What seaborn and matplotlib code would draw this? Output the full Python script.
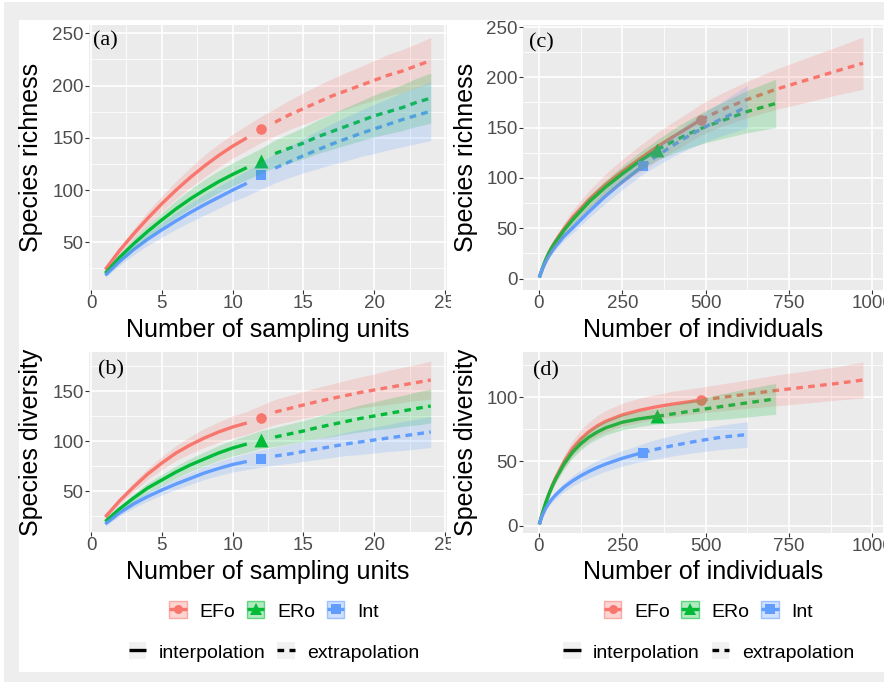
import numpy as np
import pandas as pd
import matplotlib
matplotlib.use("Agg")
import matplotlib.pyplot as plt
import seaborn as sns
from matplotlib.patches import Rectangle, Patch
from matplotlib.lines import Line2D
from matplotlib.transforms import Bbox
from matplotlib.colors import to_rgba

# ---------------- data ----------------
sites = ["EFo", "ERo", "Int"]
site_colors = {"EFo": "#F8766D", "ERo": "#00BA38", "Int": "#619CFF"}
site_markers = {"EFo": "o", "ERo": "^", "Int": "s"}
marker_sizes = {"EFo": 58, "ERo": 100, "Int": 62}

# Panel (a): species richness vs sampling units
units_interp = list(range(1, 12))
units_obs = 12
units_extrap = list(range(13, 25))
a_interp = {
    "EFo": [24, 42, 58, 73, 87, 100, 112, 123, 133, 142, 150],
    "ERo": [20.5, 35.5, 48.5, 60.5, 71.5, 82, 91.5, 100, 108, 115, 121.5],
    "Int": [18.5, 31.5, 43, 53, 62, 70.5, 78.5, 86, 93, 100, 106.5],
}
a_obs = {"EFo": 158, "ERo": 128, "Int": 114}
a_extrap = {
    "EFo": [165, 172, 178, 184, 190, 195, 200, 205, 210, 214, 219, 224],
    "ERo": [135, 140, 145, 151, 156, 161, 166, 171, 175, 179, 184, 188],
    "Int": [121, 127, 133, 138.5, 144, 149, 154, 158.5, 163, 167.5, 171.5, 175.5],
}
a_half = {
    "EFo": [2, 3.5, 5, 6.5, 7.5, 8.5, 9.5, 10.5, 11, 11.5, 12, 12.5, 13, 14, 15, 16, 16.5, 17.5, 18, 19, 20, 20.5, 21, 22],
    "ERo": [2, 3.5, 5, 6, 7, 8, 9, 10, 10.5, 11, 11.5, 12, 13, 14, 15, 16, 17, 18, 19, 20, 21, 22, 23, 24],
    "Int": [2, 3.5, 5, 6, 7, 8, 9, 10, 10.5, 11, 12, 13, 14, 15, 16.5, 18, 19.5, 21, 22, 23.5, 24.5, 26, 27, 28],
}

# Panel (b): species diversity vs sampling units
b_interp = {
    "EFo": [24, 40, 54, 67, 78, 88, 96, 103, 109, 114, 118],
    "ERo": [19.5, 32, 43, 53, 61, 69, 76, 82, 88, 93, 97],
    "Int": [17, 28, 37, 44.5, 51, 57, 62.5, 68, 72.5, 76.5, 79.5],
}
b_obs = {"EFo": 123.5, "ERo": 101.5, "Int": 82.5}
b_extrap = {
    "EFo": [129, 132.5, 136, 139.5, 142.5, 145.5, 148.5, 151, 153.5, 156, 158.5, 161],
    "ERo": [104, 107, 110, 113.5, 116.5, 119.5, 122.5, 125, 127.5, 130, 132.5, 135],
    "Int": [85, 87, 89.5, 92, 94.5, 97, 99, 101, 103, 105, 107, 109],
}
b_half = {
    "EFo": [2, 3.5, 4.5, 5.5, 6.5, 7.5, 8.5, 9.5, 10, 11, 11.5, 12, 12.5, 13, 13.5, 14, 14.5, 15, 15.5, 16, 17, 17.5, 18, 19],
    "ERo": [2, 3, 4, 5, 5.5, 6, 6.5, 7, 7.5, 8, 8.5, 9, 9.5, 10, 10.5, 11, 12, 12.5, 13.5, 14, 15, 15.5, 16.5, 17],
    "Int": [2, 3, 4, 4.5, 5, 5.5, 6, 6.5, 7, 7.5, 8, 8.5, 9, 9.5, 10, 10.5, 11, 11.5, 12.5, 13, 13.5, 14.5, 15, 15.5],
}

# Panel (c): species richness vs individuals
c_interp_x = {
    "EFo": [1, 5, 10, 20, 30, 40, 50, 75, 100, 150, 200, 250, 300, 350, 400, 450, 486],
    "ERo": [1, 5, 10, 20, 30, 40, 50, 75, 100, 150, 200, 250, 300, 355],
    "Int": [1, 5, 10, 20, 30, 40, 50, 75, 100, 150, 200, 250, 300, 312],
}
ind_extrap_x = {
    "EFo": [486, 550, 625, 710, 800, 900, 972],
    "ERo": [355, 400, 450, 500, 550, 625, 710],
    "Int": [312, 350, 400, 450, 500, 550, 625],
}
c_interp = {
    "EFo": [1, 5, 9.8, 18.5, 26, 32, 37.5, 49.5, 60.5, 78.5, 93.5, 106.5, 118.5, 130, 140.5, 150.5, 158],
    "ERo": [1, 5, 9.8, 18.5, 25.5, 31.5, 36.5, 48, 58, 76, 91, 104, 116, 128],
    "Int": [1, 4.8, 9.3, 16.5, 22.5, 27.5, 32, 42, 50, 66.5, 82, 96, 109, 112],
}
c_extrap = {
    "EFo": [158, 168, 178, 188, 197, 207, 214],
    "ERo": [128, 136, 144, 151, 157, 166, 174],
    "Int": [112, 121, 132, 142, 151, 159, 171],
}
c_half_interp = {
    "EFo": [0, 0.5, 1, 2, 3, 4, 4.5, 6, 7, 9, 10.5, 12, 13, 14, 14.5, 15, 15.5],
    "ERo": [0, 0.5, 1, 1.5, 2, 2.5, 3, 4, 5, 6, 7, 8, 9, 10],
    "Int": [0, 0.5, 1, 1.5, 2, 2.5, 3, 4, 5, 6, 7, 7.5, 8, 8],
}
c_half_extrap = {
    "EFo": [15.5, 16.5, 18, 20, 22, 24, 26],
    "ERo": [10, 12, 14, 16, 18, 21, 24],
    "Int": [8, 9.5, 11, 13, 15, 17, 21],
}

# Panel (d): species diversity vs individuals
d_interp_x = {
    "EFo": [1, 5, 10, 20, 30, 40, 50, 75, 100, 125, 150, 175, 200, 250, 300, 350, 400, 450, 486],
    "ERo": [1, 5, 10, 20, 30, 40, 50, 75, 100, 125, 150, 175, 200, 250, 300, 355],
    "Int": [1, 5, 10, 20, 30, 40, 50, 75, 100, 125, 150, 175, 200, 250, 300, 312],
}
d_interp = {
    "EFo": [1, 4.9, 9.5, 17.7, 25, 31.5, 37.3, 49.8, 60, 67.5, 73.3, 77.8, 81.3, 86.3, 89.8, 92.5, 94.7, 96.5, 97.8],
    "ERo": [1, 4.9, 9.5, 17.6, 24.7, 30.9, 36.4, 48, 57, 63.8, 69, 73, 76.2, 80.6, 83.2, 85.2],
    "Int": [1, 4.5, 8, 13.5, 17.7, 21.1, 24, 30, 34.8, 38.8, 42.3, 45.3, 48, 52.5, 56.2, 57],
}
d_extrap = {
    "EFo": [97.8, 100, 102.5, 105.3, 108, 111, 113.5],
    "ERo": [85.2, 87, 89, 91, 92.9, 95.7, 98.8],
    "Int": [57, 59.5, 62.3, 64.8, 67, 69, 71],
}
d_half_interp = {
    "EFo": [0, 0.5, 1, 1.5, 2, 3, 3.5, 5, 6, 7, 7.5, 8, 8.5, 9, 9.5, 9.5, 10, 10, 10],
    "ERo": [0, 0.5, 1, 1.5, 2, 2.5, 3, 4, 4.5, 5, 5, 5.5, 5.5, 6, 6, 6],
    "Int": [0, 0.5, 1, 1.5, 2, 2.5, 3, 3.5, 4, 4.5, 5, 5.5, 5.5, 6, 6.5, 7],
}
d_half_extrap = {
    "EFo": [10, 10.5, 11, 12, 12.5, 13, 14],
    "ERo": [6, 7, 8, 9, 10, 11, 12],
    "Int": [7, 7.5, 8, 8.5, 9, 9.5, 10],
}

units_xticks = [0, 5, 10, 15, 20, 25]
ind_xticks = [0, 250, 500, 750, 1000]
a_yticks = [50, 100, 150, 200, 250]
b_yticks = [50, 100, 150]
c_yticks = [0, 50, 100, 150, 200, 250]
d_yticks = [0, 50, 100]
legend_labels = ["interpolation", "extrapolation"]

# ---------------- style ----------------
sns.set_style({
    "axes.facecolor": "#EBEBEB",
    "figure.facecolor": "white",
    "grid.color": "white",
    "axes.grid": True,
    "axes.edgecolor": "none",
    "xtick.bottom": True,
    "ytick.left": True,
})
plt.rcParams["font.family"] = ["Liberation Sans", "DejaVu Sans"]

W, H = 884, 682
fig = plt.figure(figsize=(W / 100, H / 100), dpi=100)

# outer frame
gray = "#EEEEEE"
fig.add_artist(Rectangle((4 / W, 0), 15 / W, 1 - 2 / H, transform=fig.transFigure, color=gray, zorder=-5, lw=0))
fig.add_artist(Rectangle((4 / W, 1 - 20 / H), 1, 18 / H, transform=fig.transFigure, color=gray, zorder=-5, lw=0))
fig.add_artist(Rectangle((4 / W, 0), 1, 10 / H, transform=fig.transFigure, color=gray, zorder=-5, lw=0))


def ax_rect(l, r, t, b):
    return [l / W, 1 - b / H, (r - l) / W, (b - t) / H]


ax_a = fig.add_axes(ax_rect(89, 447, 25, 290))
ax_b = fig.add_axes(ax_rect(89, 447, 352, 532))
ax_c = fig.add_axes(ax_rect(523, 883, 25, 290))
ax_d = fig.add_axes(ax_rect(523, 883, 352, 533))

DASH = (2.0, 1.6)
LW = 2.4


def draw(ax, interp_x, interp_y, obs_x, obs_y, extrap_x, extrap_y, band_x, band_c, band_h):
    rows_i, rows_e = [], []
    for s in sites:
        for x, y in zip(interp_x[s], interp_y[s]):
            rows_i.append((x, y, s))
        for x, y in zip(extrap_x[s], extrap_y[s]):
            rows_e.append((x, y, s))
    df_i = pd.DataFrame(rows_i, columns=["x", "y", "site"])
    df_e = pd.DataFrame(rows_e, columns=["x", "y", "site"])
    # observed points
    for s in sites:
        sns.scatterplot(x=[obs_x[s]], y=[obs_y[s]], color=site_colors[s], marker=site_markers[s],
                        s=marker_sizes[s], linewidth=0, ax=ax, zorder=3, legend=False)
    sns.lineplot(data=df_i, x="x", y="y", hue="site", hue_order=sites, palette=site_colors,
                 lw=LW, ax=ax, legend=False, estimator=None, sort=False, zorder=2,
                 solid_capstyle="butt")
    n0 = len(ax.lines)
    sns.lineplot(data=df_e, x="x", y="y", hue="site", hue_order=sites, palette=site_colors,
                 lw=LW, ax=ax, legend=False, estimator=None, sort=False, zorder=2,
                 linestyle="--")
    for ln in ax.lines[n0:]:
        ln.set_dashes(DASH)
        ln.set_dash_capstyle("butt")
    for s in sites:
        c = np.array(band_c[s], float)
        h = np.array(band_h[s], float)
        ax.fill_between(band_x[s], c - h, c + h, color=site_colors[s], alpha=0.2, lw=0, zorder=4)


# panel a/b
u_ix = {s: units_interp for s in sites}
u_ex = {s: units_extrap for s in sites}
u_bx = {s: units_interp + [units_obs] + units_extrap for s in sites}
u_ox = {s: units_obs for s in sites}
draw(ax_a, u_ix, a_interp, u_ox, a_obs, u_ex, a_extrap, u_bx,
     {s: a_interp[s] + [a_obs[s]] + a_extrap[s] for s in sites}, a_half)
draw(ax_b, u_ix, b_interp, u_ox, b_obs, u_ex, b_extrap, u_bx,
     {s: b_interp[s] + [b_obs[s]] + b_extrap[s] for s in sites}, b_half)

# panel c/d
draw(ax_c, c_interp_x, c_interp, {s: c_interp_x[s][-1] for s in sites}, {s: c_interp[s][-1] for s in sites},
     ind_extrap_x, c_extrap, {s: c_interp_x[s] + ind_extrap_x[s][1:] for s in sites},
     {s: c_interp[s] + c_extrap[s][1:] for s in sites},
     {s: c_half_interp[s] + c_half_extrap[s][1:] for s in sites})
draw(ax_d, d_interp_x, d_interp, {s: d_interp_x[s][-1] for s in sites}, {s: d_interp[s][-1] for s in sites},
     ind_extrap_x, d_extrap, {s: d_interp_x[s] + ind_extrap_x[s][1:] for s in sites},
     {s: d_interp[s] + d_extrap[s][1:] for s in sites},
     {s: d_half_interp[s] + d_half_extrap[s][1:] for s in sites})

# axes formatting
cfg = [
    (ax_a, (-0.15, 25.15), (4.4, 258), units_xticks, a_yticks, "Number of sampling units", "Species richness", "(a)", (0.011, 0.94), -0.106, -0.128),
    (ax_b, (-0.15, 25.15), (9, 189), units_xticks, b_yticks, "Number of sampling units", "Species diversity", "(b)", (0.024, 0.90), -0.156, -0.128),
    (ax_c, (-48, 1032), (-11.4, 252), ind_xticks, c_yticks, "Number of individuals", "Species richness", "(c)", (0.017, 0.932), -0.106, -0.125),
    (ax_d, (-48, 1032), (-5.7, 135.3), ind_xticks, d_yticks, "Number of individuals", "Species diversity", "(d)", (0.027, 0.897), -0.149, -0.125),
]
for ax, xl, yl, xt, yt, xlab, ylab, tag, tpos, xly, ylx in cfg:
    ax.set_xlim(*xl)
    ax.set_ylim(*yl)
    ax.set_xticks(xt)
    ax.set_yticks(yt)
    xm = [(xt[i] + xt[i + 1]) / 2 for i in range(len(xt) - 1)]
    step = yt[1] - yt[0]
    ym = [v for v in np.arange(yt[0] - step / 2, yl[1], step) if yl[0] < v < yl[1] and v not in yt]
    ax.set_xticks(xm, minor=True)
    ax.set_yticks(ym, minor=True)
    ax.grid(which="major", color="white", lw=1.2)
    ax.grid(which="minor", color="white", lw=0.6)
    ax.tick_params(which="major", length=2.75, width=0.8, color="#333333", labelsize=13.5,
                   labelcolor="#4D4D4D", pad=1.2)
    ax.tick_params(which="minor", length=0)
    ax.set_xlabel(xlab, fontsize=18, color="black")
    ax.set_ylabel(ylab, fontsize=18, color="black")
    ax.xaxis.set_label_coords(0.5, xly)
    ax.yaxis.set_label_coords(ylx, 0.5)
    ax.text(tpos[0], tpos[1], tag, transform=ax.transAxes, ha="left", va="center",
            fontsize=16, family=["Liberation Serif", "DejaVu Serif"], zorder=6)
    for sp in ax.spines.values():
        sp.set_visible(False)


# legends
def site_handles():
    hs = []
    ms = {"EFo": 6.5, "ERo": 8.5, "Int": 6.5}
    for s in sites:
        c = site_colors[s]
        hs.append((Patch(facecolor=to_rgba(c, 0.3), edgecolor=to_rgba(c, 0.55), lw=1.0),
                   Line2D([0], [0], color=c, lw=LW, marker=site_markers[s], ms=ms[s], mew=0,
                          solid_capstyle="butt")))
    return hs


def method_handles():
    solid = Line2D([0], [0], color="black", lw=LW, solid_capstyle="butt")
    dashed = Line2D([0], [0], color="black", lw=LW, dashes=DASH, dash_capstyle="butt")
    return [(Patch(facecolor="#F2F2F2", edgecolor="none"), solid),
            (Patch(facecolor="#F2F2F2", edgecolor="none"), dashed)]


leg_kw = dict(loc="center", frameon=False, fontsize=14, handlelength=0.9, handleheight=0.95,
              handletextpad=0.65, columnspacing=0.6, borderaxespad=0, borderpad=0)
for cx in (274, 708.5):
    fig.legend(site_handles(), sites, ncol=3, bbox_to_anchor=(cx / W, 1 - 611 / H), **leg_kw)
    fig.legend(method_handles(), legend_labels, ncol=2, bbox_to_anchor=(cx / W, 1 - 652 / H), **leg_kw)

# clip the left column's x tick labels at the panel seam, as in the source image
fig.canvas.draw()
clip = Bbox.from_extents(0, 0, 451, H)
for ax in (ax_a, ax_b):
    for t in ax.xaxis.get_major_ticks():
        t.label1.set_clip_box(clip)
        t.label1.set_clip_on(True)

fig.savefig("out.png", dpi=100)
